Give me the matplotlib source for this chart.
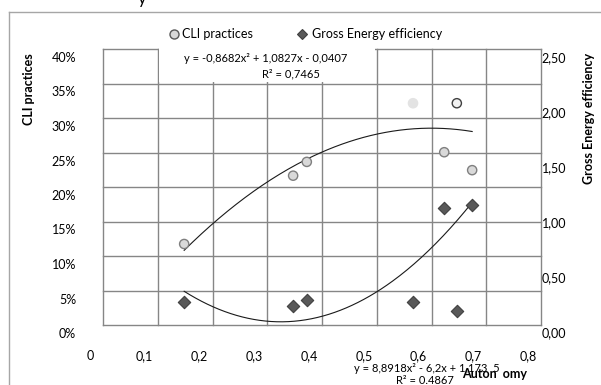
import numpy as np
import matplotlib
matplotlib.use("Agg")
import matplotlib.pyplot as plt
from matplotlib.lines import Line2D
from matplotlib.patches import Rectangle

plt.rcParams['font.family'] = ['Lato', 'DejaVu Sans']
plt.rcParams['font.size'] = 9

# data
autonomy = [0.172, 0.371, 0.396, 0.590, 0.670, 0.647, 0.698]
cli_practices = [0.129, 0.228, 0.248, 0.333, 0.333, 0.262, 0.236]
gross_energy = [0.27, 0.24, 0.29, 0.27, 0.19, 1.13, 1.155]

cli_fit = [-0.8682, 1.0827, -0.0407]
energy_fit = [8.8918, -6.2, 1.1735]

x_ticks = [0, 0.1, 0.2, 0.3, 0.4, 0.5, 0.6, 0.7, 0.8]
x_labels = ['0', '0,1', '0,2', '0,3', '0,4', '0,5', '0,6', '0,7', '0,8']
left_ticks = [0, 0.05, 0.10, 0.15, 0.20, 0.25, 0.30, 0.35, 0.40]
left_labels = ['0%', '5%', '10%', '15%', '20%', '25%', '30%', '35%', '40%']
right_ticks = [0, 0.5, 1.0, 1.5, 2.0, 2.5]
right_labels = ['0,00', '0,50', '1,00', '1,50', '2,00', '2,50']

W, H = 601, 385


def fx(px):
    return px / W


def fy(py):
    return 1 - py / H


fig = plt.figure(figsize=(W / 100, H / 100), dpi=100)
fig.patch.set_facecolor('white')

# outer chart border (cut off on right/bottom)
fig.add_artist(Line2D([fx(9), fx(9)], [fy(12), 0], color='#a6a6a6', lw=1))
fig.add_artist(Line2D([fx(9), 1], [fy(12), fy(12)], color='#a6a6a6', lw=1))

# grid sits slightly offset from the value axes
gax = fig.add_axes([fx(103), fy(325), (541 - 103) / W, (325 - 49) / H])
gax.set_xlim(0, 8)
gax.set_ylim(0, 8)
gax.axis('off')
for k in range(9):
    gax.plot([k, k], [0, 8], color='#868686', lw=1, clip_on=False, zorder=1)
    gax.plot([0, 8], [k, k], color='#868686', lw=1, clip_on=False, zorder=1)
gax.add_patch(Rectangle((1.03, 7.04), 3.94, 1.2, facecolor='white',
                        edgecolor='none', clip_on=False, zorder=2))

ax = fig.add_axes([fx(90), fy(333), (528 - 90) / W, (333 - 57) / H])
ax.patch.set_visible(False)
ax.set_xlim(0, 0.8)
ax.set_ylim(0, 0.40)
for s in ax.spines.values():
    s.set_visible(False)
ax.set_xticks(x_ticks)
ax.set_xticklabels(x_labels)
ax.set_yticks(left_ticks)
ax.set_yticklabels(left_labels)
ax.tick_params(axis='x', length=0, pad=12)
ax.tick_params(axis='y', length=0, pad=10)

ax2 = ax.twinx()
ax2.set_ylim(-0.009, 2.5)
for s in ax2.spines.values():
    s.set_visible(False)
ax2.set_yticks(right_ticks)
ax2.set_yticklabels(right_labels)
ax2.tick_params(axis='y', length=0, pad=10)

# trendlines
xx = np.linspace(min(autonomy), max(autonomy), 200)
ax.plot(xx, np.polyval(cli_fit, xx), color='#1a1a1a', lw=0.8, zorder=3)
ax2.plot(xx, np.polyval(energy_fit, xx), color='#1a1a1a', lw=0.8, zorder=3)

# points
face = ['#d9d9d9', '#d9d9d9', '#d9d9d9', '#e3e3e3', '#f2f2f2', '#d9d9d9', '#d9d9d9']
edge = ['#7f7f7f', '#7f7f7f', '#7f7f7f', '#e3e3e3', '#404040', '#7f7f7f', '#7f7f7f']
ax.scatter(autonomy, cli_practices, s=44, facecolors=face, edgecolors=edge,
           linewidths=1, zorder=4, clip_on=False)
ax2.scatter(autonomy, gross_energy, s=40, marker='D', facecolor='#595959',
            edgecolor='#404040', linewidths=0.8, zorder=4, clip_on=False)

# axis titles
fig.text(fx(29), fy(89), 'CLI practices', rotation=90, ha='center', va='center',
         fontweight='bold')
fig.text(fx(589), fy(118), 'Gross Energy efficiency', rotation=90, ha='center',
         va='center', fontweight='bold')
fig.text(fx(462), fy(374), 'Auton  omy', ha='left', va='center', fontweight='bold',
         zorder=6)

# legend
fig.add_artist(Line2D([fx(174)], [fy(34)], marker='o', ms=6.5, mfc='#d9d9d9',
                      mec='#595959', mew=1, ls='none'))
fig.text(fx(182), fy(34), 'CLI practices', ha='left', va='center')
fig.add_artist(Line2D([fx(302)], [fy(34)], marker='D', ms=5.5, mfc='#595959',
                      mec='#404040', mew=0.8, ls='none'))
fig.text(fx(312), fy(34), 'Gross Energy efficiency', ha='left', va='center')

# trendline equations
fig.text(fx(266), fy(58), 'y = -0,8682x² + 1,0827x - 0,0407', ha='center', va='center',
         fontsize=8, zorder=6)
fig.text(fx(262), fy(74), 'R² = 0,7465', ha='left', va='center', fontsize=8, zorder=6)
fig.text(fx(354), fy(368), 'y = 8,8918x² - 6,2x + 1,173  5', ha='left', va='center',
         fontsize=8)
fig.text(fx(396), fy(381), 'R² = 0.4867', ha='left', va='center', fontsize=8)

# cut-off title remnant
fig.text(fx(142), fy(4), 'y', ha='center', va='baseline', fontsize=12)

fig.savefig('out.png', dpi=100)
